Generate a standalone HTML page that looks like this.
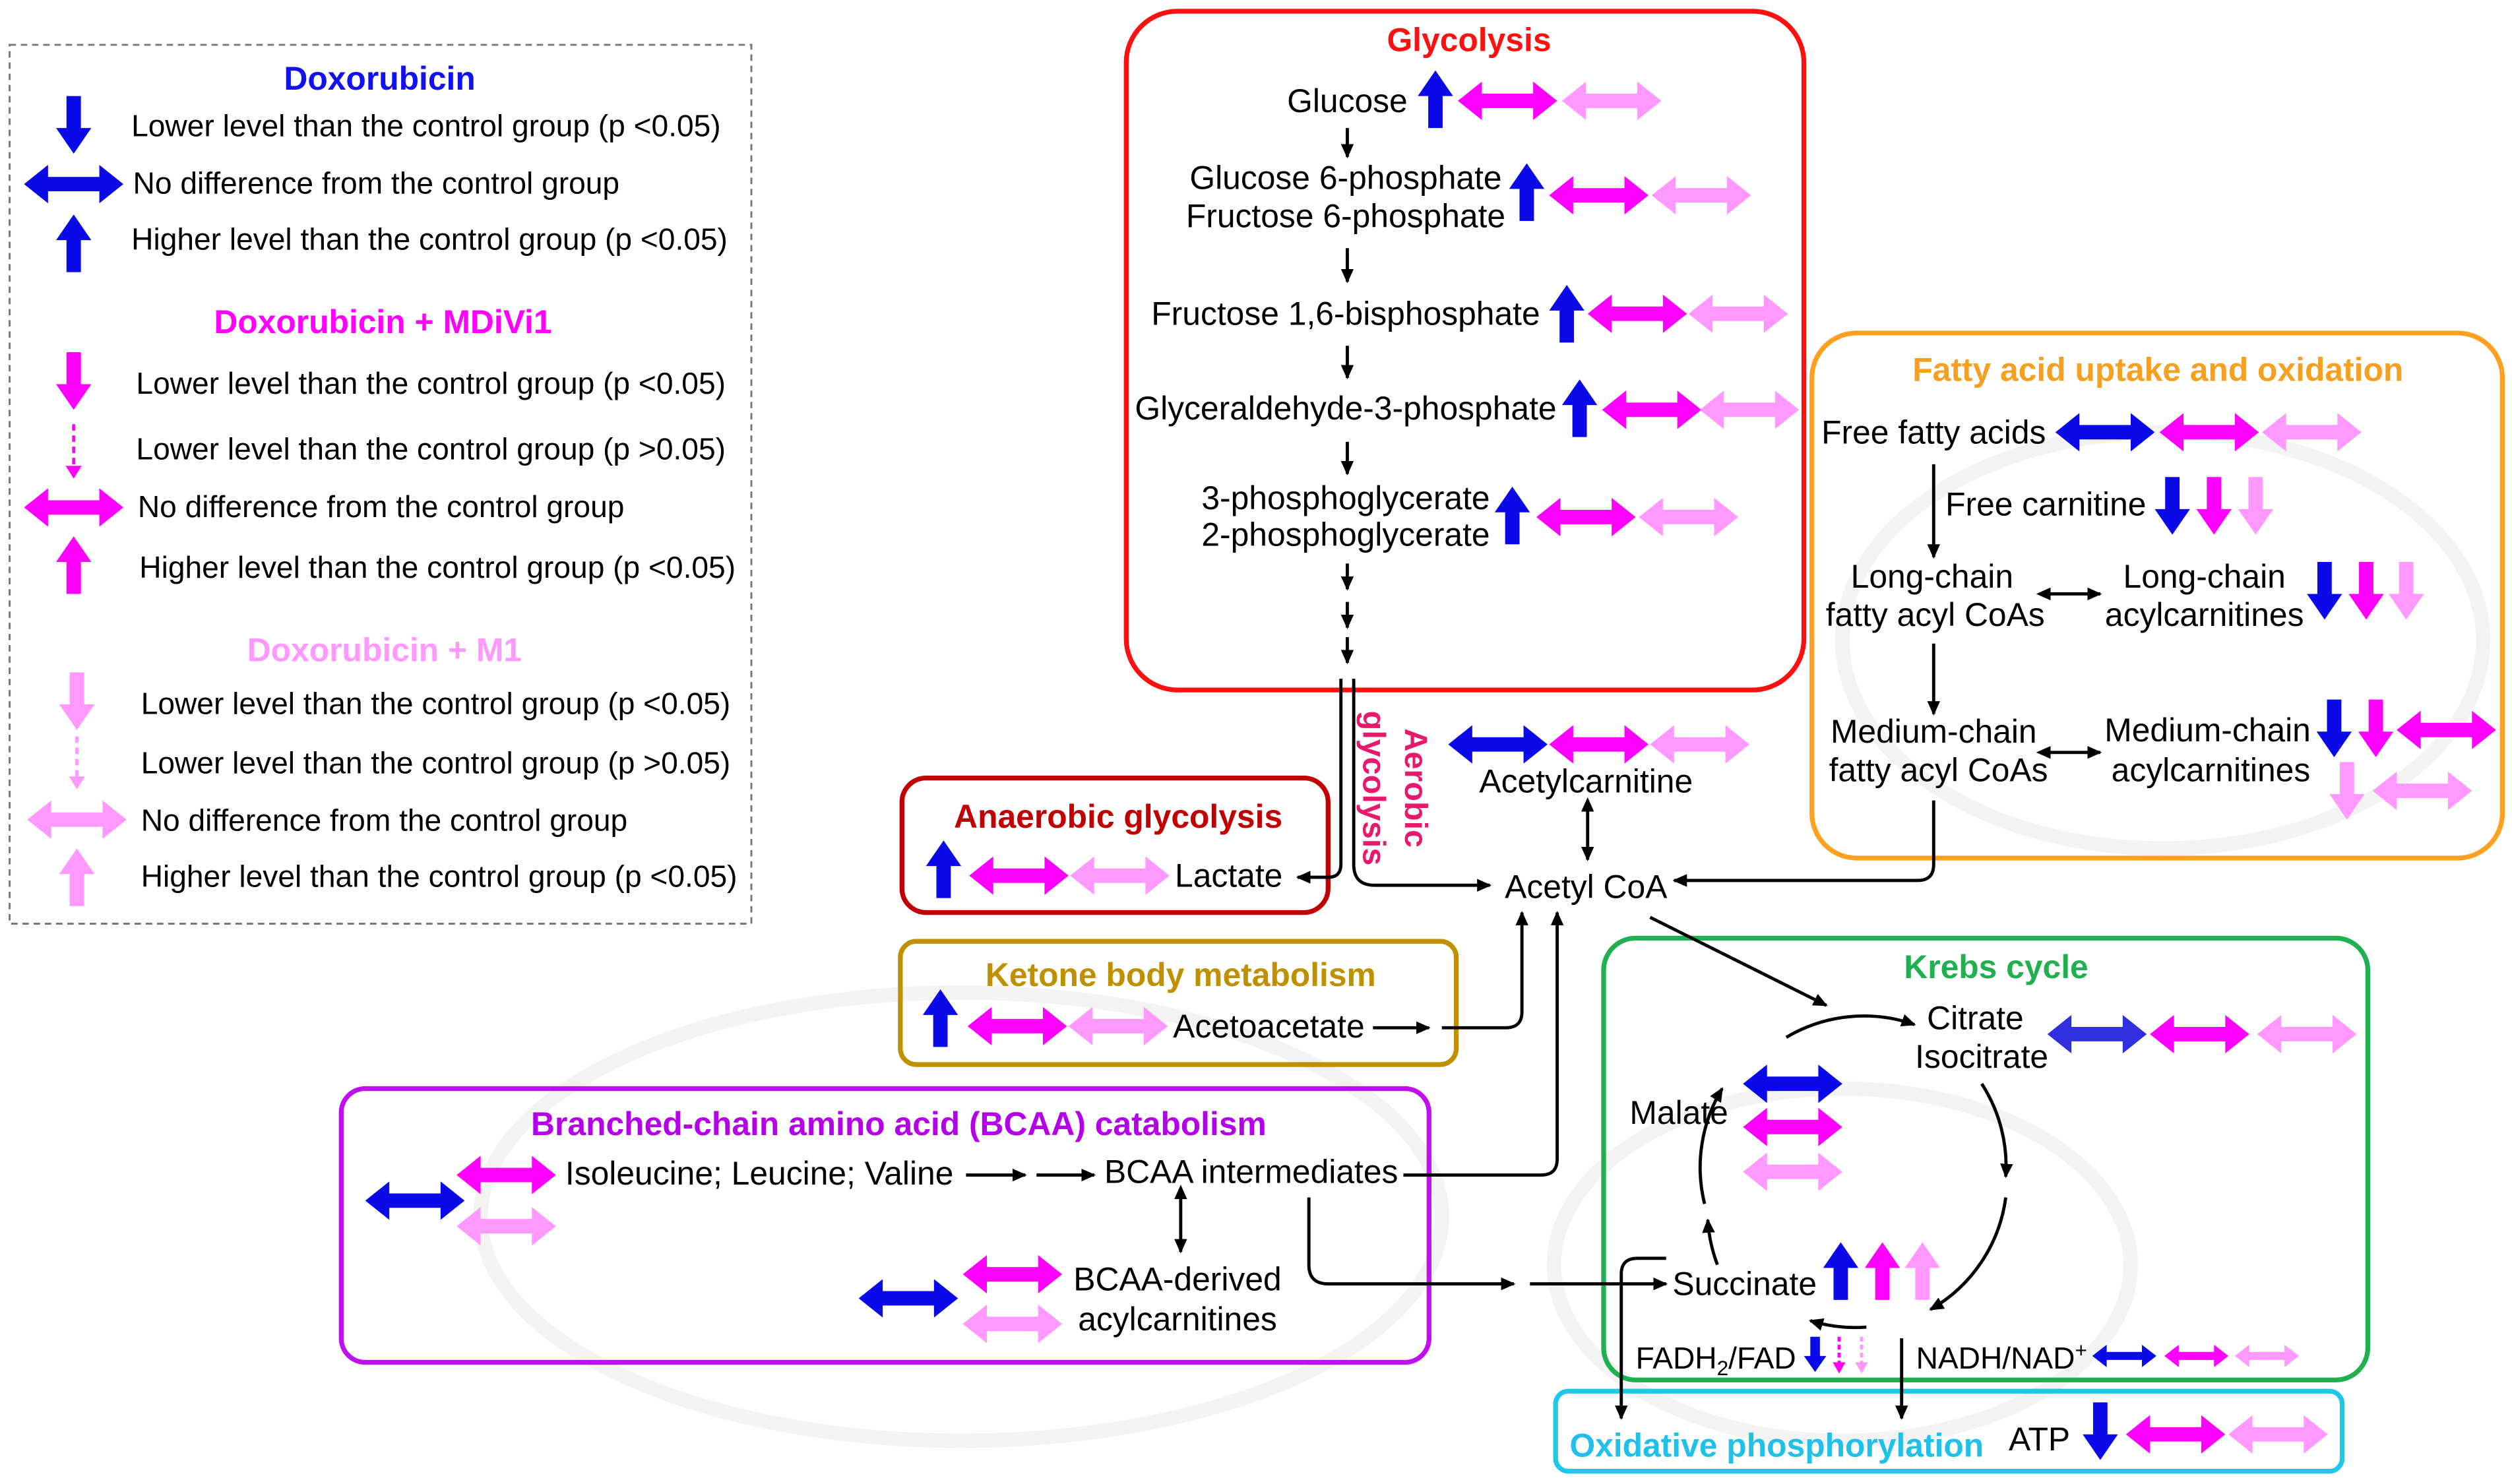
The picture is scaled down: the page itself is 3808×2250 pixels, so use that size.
<!DOCTYPE html>
<html><head><meta charset="utf-8"><style>
html,body{margin:0;padding:0;background:#fff;}
svg{display:block;}
text{font-family:"Liberation Sans",Arial,sans-serif;}
</style></head><body>
<svg width="3808" height="2250" viewBox="0 0 1568 927" preserveAspectRatio="none" xmlns="http://www.w3.org/2000/svg">
<defs>
<path id="up" d="M0,-18 L11,-2 L4.5,-2 L4.5,18 L-4.5,18 L-4.5,-2 L-11,-2 Z"/>
<path id="dn" d="M0,18 L11,2 L4.5,2 L4.5,-18 L-4.5,-18 L-4.5,2 L-11,2 Z"/>
<path id="dbl" d="M-31,0 L-16,-12 L-16,-4.5 L16,-4.5 L16,-12 L31,0 L16,12 L16,4.5 L-16,4.5 L-16,12 Z"/>
<path id="sdn" d="M0,11 L7,1 L3,1 L3,-11 L-3,-11 L-3,1 L-7,1 Z"/>
<path id="sdbl" d="M-20,0 L-11,-7 L-11,-2.5 L11,-2.5 L11,-7 L20,0 L11,7 L11,2.5 L-11,2.5 L-11,7 Z"/>
<marker id="ah" markerWidth="10" markerHeight="10" refX="8" refY="5" orient="auto" markerUnits="userSpaceOnUse"><path d="M0,1 L9,5 L0,9 Z" fill="#000"/></marker>
<marker id="ahs" markerWidth="10" markerHeight="10" refX="1" refY="5" orient="auto-start-reverse" markerUnits="userSpaceOnUse"><path d="M0,1 L9,5 L0,9 Z" fill="#000"/></marker>
</defs>
<g fill="none" stroke="#f3f3f3" stroke-width="9">
<ellipse cx="600" cy="760" rx="300" ry="140"/>
<ellipse cx="1350" cy="400" rx="200" ry="130"/>
<ellipse cx="1150" cy="790" rx="180" ry="110"/>
</g>
<!-- Legend -->
<rect x="6" y="28" width="463" height="549" fill="none" stroke="#777" stroke-dasharray="4,3" stroke-width="1.2"/>
<g font-size="19">
<text x="237" y="56" fill="#1010f0" font-weight="bold" text-anchor="middle" font-size="20.5">Doxorubicin</text>
<use href="#dn" x="46" y="78" fill="#0a0ae8"/><text x="82" y="85">Lower level than the control group (p &lt;0.05)</text>
<use href="#dbl" x="46" y="115" fill="#0a0ae8"/><text x="83" y="121">No difference from the control group</text>
<use href="#up" x="46" y="152" fill="#0a0ae8"/><text x="82" y="156">Higher level than the control group (p &lt;0.05)</text>
<text x="239" y="208" fill="#ff00ff" font-weight="bold" text-anchor="middle" font-size="20.5">Doxorubicin + MDiVi1</text>
<use href="#dn" x="46" y="238" fill="#ff00ff"/><text x="85" y="246">Lower level than the control group (p &lt;0.05)</text>
<line x1="46" y1="265" x2="46" y2="292" stroke="#ff00ff" stroke-width="2" stroke-dasharray="4,3"/><path d="M41,291 L51,291 L46,299 Z" fill="#ff00ff"/><text x="85" y="287">Lower level than the control group (p &gt;0.05)</text>
<use href="#dbl" x="46" y="317" fill="#ff00ff"/><text x="86" y="323">No difference from the control group</text>
<use href="#up" x="46" y="353" fill="#ff00ff"/><text x="87" y="361">Higher level than the control group (p &lt;0.05)</text>
<text x="240" y="413" fill="#ff99ff" font-weight="bold" text-anchor="middle" font-size="20.5">Doxorubicin + M1</text>
<use href="#dn" x="48" y="438" fill="#ff99ff"/><text x="88" y="446">Lower level than the control group (p &lt;0.05)</text>
<line x1="48" y1="460" x2="48" y2="486" stroke="#ff99ff" stroke-width="2" stroke-dasharray="4,3"/><path d="M43,485 L53,485 L48,493 Z" fill="#ff99ff"/><text x="88" y="483">Lower level than the control group (p &gt;0.05)</text>
<use href="#dbl" x="48" y="512" fill="#ff99ff"/><text x="88" y="519">No difference from the control group</text>
<use href="#up" x="48" y="548" fill="#ff99ff"/><text x="88" y="554">Higher level than the control group (p &lt;0.05)</text>
</g>

<!-- Boxes -->
<g fill="none" stroke-width="3">
<rect x="703" y="7" width="423" height="424" rx="32" stroke="#ff1010"/>
<rect x="563" y="486" width="266" height="84" rx="15" stroke="#c00000"/>
<rect x="562" y="588" width="347" height="77" rx="10" stroke="#bf9000"/>
<rect x="213" y="680" width="679" height="171" rx="15" stroke="#c010f0"/>
<rect x="1131" y="208" width="431" height="328" rx="28" stroke="#ffa020"/>
<rect x="1001" y="586" width="477" height="276" rx="20" stroke="#20b050"/>
<rect x="971" y="869" width="491" height="50" rx="8" stroke="#20c8e8"/>
</g>
<g font-weight="bold" font-size="20.5" text-anchor="middle">
<text x="917" y="32" fill="#ff1010">Glycolysis</text>
<text x="698" y="517" fill="#c00000">Anaerobic glycolysis</text>
<text x="737" y="616" fill="#bf9000">Ketone body metabolism</text>
<text x="561" y="709" fill="#b400e8">Branched-chain amino acid (BCAA) catabolism</text>
<text x="1347" y="238" fill="#f5a020">Fatty acid uptake and oxidation</text>
<text x="1246" y="611" fill="#20b050">Krebs cycle</text>
<text x="1109" y="910" fill="#20c0e8">Oxidative phosphorylation</text>
</g>
<g font-weight="bold" font-size="20" fill="#e8186c">
<text transform="translate(877,455) rotate(90)">Aerobic</text>
<text transform="translate(851,444) rotate(90)">glycolysis</text>
</g>

<!-- contents -->
<g font-size="20.5" text-anchor="middle">
<text x="841" y="70">Glucose</text>
<text x="840" y="118">Glucose 6-phosphate</text>
<text x="840" y="142">Fructose 6-phosphate</text>
<text x="840" y="203">Fructose 1,6-bisphosphate</text>
<text x="840" y="262">Glyceraldehyde-3-phosphate</text>
<text x="840" y="318">3-phosphoglycerate</text>
<text x="840" y="341">2-phosphoglycerate</text>
<text x="767" y="554">Lactate</text>
<text x="792" y="648">Acetoacetate</text>
<text x="990" y="495">Acetylcarnitine</text>
<text x="990" y="561">Acetyl CoA</text>
<text x="474" y="740">Isoleucine; Leucine; Valine</text>
<text x="781" y="739">BCAA intermediates</text>
<text x="735" y="806">BCAA-derived</text>
<text x="735" y="831">acylcarnitines</text>
<text x="1207" y="277">Free fatty acids</text>
<text x="1277" y="322">Free carnitine</text>
<text x="1206" y="367">Long-chain</text>
<text x="1208" y="391">fatty acyl CoAs</text>
<text x="1376" y="367">Long-chain</text>
<text x="1376" y="391">acylcarnitines</text>
<text x="1207" y="464">Medium-chain</text>
<text x="1210" y="488">fatty acyl CoAs</text>
<text x="1378" y="463">Medium-chain</text>
<text x="1380" y="488">acylcarnitines</text>
<text x="1233" y="643">Citrate</text>
<text x="1237" y="667">Isocitrate</text>
<text x="1048" y="702">Malate</text>
<text x="1089" y="809">Succinate</text>
<text x="1273" y="906">ATP</text>
</g>
<g font-size="19">
<text x="1021" y="855">FADH<tspan font-size="13" dy="4">2</tspan><tspan dy="-4">/FAD</tspan></text>
<text x="1196" y="855">NADH/NAD<tspan font-size="13" dy="-7">+</tspan></text>
</g>

<!-- arrow icons -->
<g fill="#0a0ae8">
<use href="#up" x="896" y="62"/><use href="#up" x="953" y="120"/><use href="#up" x="978" y="196"/><use href="#up" x="986" y="255"/><use href="#up" x="944" y="322"/>
<use href="#up" x="589" y="543"/><use href="#up" x="587" y="636"/>
<use href="#dbl" x="935" y="465"/><use href="#dbl" x="259" y="750"/><use href="#dbl" x="567" y="811"/>
<use href="#dbl" x="1314" y="270"/><use href="#dn" x="1356" y="316"/><use href="#dn" x="1451" y="369"/><use href="#dn" x="1457" y="455"/>
<use href="#dbl" x="1119" y="677"/><use href="#up" x="1149" y="794"/>
<use href="#dn" x="1311" y="894"/>
<use href="#sdn" x="1133" y="846"/><use href="#sdbl" x="1326" y="847"/>
</g>
<use href="#dbl" x="1309" y="646" fill="#3030e0"/>
<g fill="#ff00ff">
<use href="#dbl" x="941" y="63"/><use href="#dbl" x="998" y="122"/><use href="#dbl" x="1022" y="196"/><use href="#dbl" x="1031" y="256"/><use href="#dbl" x="990" y="323"/>
<use href="#dbl" x="636" y="547"/><use href="#dbl" x="635" y="641"/><use href="#dbl" x="998" y="465"/>
<use href="#dbl" x="316" y="734"/><use href="#dbl" x="632" y="796"/>
<use href="#dbl" x="1379" y="270"/><use href="#dn" x="1382" y="316"/><use href="#dn" x="1477" y="369"/><use href="#dn" x="1483" y="455"/><use href="#dbl" x="1527" y="456"/>
<use href="#dbl" x="1373" y="646"/><use href="#dbl" x="1119" y="704"/><use href="#up" x="1175" y="794"/>
<use href="#dbl" x="1358" y="896"/><use href="#sdbl" x="1371" y="847"/>
</g>
<g fill="#ff99ff">
<use href="#dbl" x="1006" y="63"/><use href="#dbl" x="1062" y="122"/><use href="#dbl" x="1085" y="196"/><use href="#dbl" x="1092" y="256"/><use href="#dbl" x="1054" y="323"/>
<use href="#dbl" x="699" y="547"/><use href="#dbl" x="698" y="641"/><use href="#dbl" x="1061" y="465"/>
<use href="#dbl" x="316" y="766"/><use href="#dbl" x="632" y="827"/>
<use href="#dbl" x="1443" y="270"/><use href="#dn" x="1408" y="316"/><use href="#dn" x="1502" y="369"/><use href="#dn" x="1465" y="494"/><use href="#dbl" x="1512" y="494"/>
<use href="#dbl" x="1440" y="646"/><use href="#dbl" x="1119" y="732"/><use href="#up" x="1200" y="794"/>
<use href="#dbl" x="1422" y="896"/><use href="#sdbl" x="1415" y="847"/>
</g>
<g stroke-width="2" stroke-dasharray="3,2">
<line x1="1148" y1="835" x2="1148" y2="852" stroke="#ff00ff"/><line x1="1162" y1="835" x2="1162" y2="852" stroke="#ff99ff"/>
</g>
<path d="M1144,851 L1152,851 L1148,858 Z" fill="#ff00ff"/><path d="M1158,851 L1166,851 L1162,858 Z" fill="#ff99ff"/>

<!-- connectors -->
<g stroke="#000" stroke-width="2" fill="none" marker-end="url(#ah)">
<line x1="841" y1="80" x2="841" y2="98"/>
<line x1="841" y1="155" x2="841" y2="176"/>
<line x1="841" y1="216" x2="841" y2="236"/>
<line x1="841" y1="276" x2="841" y2="296"/>
<line x1="841" y1="352" x2="841" y2="368"/>
<line x1="841" y1="376" x2="841" y2="392"/>
<line x1="841" y1="398" x2="841" y2="414"/>
<path d="M837,424 L837,540 Q837,548 829,548 L810,548"/>
<path d="M845,424 L845,540 Q845,553 858,553 L930,553"/>
<line x1="857" y1="642" x2="892" y2="642"/>
<path d="M900,642 L940,642 Q950,642 950,632 L950,570"/>
<path d="M876,734 L962,734 Q972,734 972,724 L972,570"/>
<line x1="603" y1="734" x2="640" y2="734"/>
<line x1="647" y1="734" x2="683" y2="734"/>
<path d="M817,748 L817,790 Q817,802 829,802 L945,802"/>
<line x1="955" y1="802" x2="1040" y2="802"/>
<line x1="1030" y1="573" x2="1140" y2="628"/>
<line x1="1207" y1="290" x2="1207" y2="348"/>
<line x1="1207" y1="402" x2="1207" y2="446"/>
<path d="M1207,500 L1207,540 Q1207,550 1197,550 L1045,550"/>
<line x1="1187" y1="836" x2="1187" y2="886"/>
<path d="M1040,786 L1022,786 Q1012,786 1012,796 L1012,886"/>
<path d="M1115,648 A95,95 0 0 1 1195,640"/>
<path d="M1237,677 A95,95 0 0 1 1252,735"/>
<path d="M1252,748 A95,95 0 0 1 1205,818"/>
<path d="M1165,829 A95,95 0 0 1 1130,825"/>
<path d="M1072,790 A95,95 0 0 1 1066,762"/>
<path d="M1064,752 A95,95 0 0 1 1075,680"/>
</g>
<g stroke="#000" stroke-width="2" fill="none" marker-end="url(#ah)" marker-start="url(#ahs)">
<line x1="991" y1="506" x2="991" y2="537"/>
<line x1="737" y1="748" x2="737" y2="782"/>
<line x1="1279" y1="371" x2="1311" y2="371"/>
<line x1="1279" y1="470" x2="1311" y2="470"/>
</g>
</svg>
</body></html>
